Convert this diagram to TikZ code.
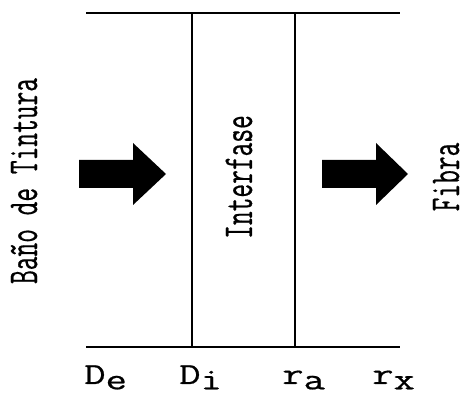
\documentclass[tikz,border=0pt]{standalone}
\usepackage{graphicx}
\usepackage{fontspec}
\newfontfamily\lblfont{Latin Modern Mono}[FakeBold=0.6]
\newcommand{\widetxt}[1]{\scalebox{1.35}[1]{#1}}
\newcommand{\talltxt}[1]{\scalebox{1}[1.6]{#1}}
\newcommand{\lowsub}[1]{\raisebox{-4pt}{#1}}

\begin{document}
\begin{tikzpicture}[x=0.75pt, y=-0.75pt,
    wall/.style={line width=1.5pt},
    flux/.style={fill=black},
    sidelabel/.style={font=\lblfont\fontsize{20}{24}\selectfont, rotate=90, anchor=base, inner sep=0pt},
    axislabel/.style={font=\lblfont\fontsize{23}{27}\selectfont, anchor=base west, inner sep=0pt}]
    \useasboundingbox (0,0) rectangle (469,395);

    % Corners of the layers
    \coordinate (TL) at (86,13);
    \coordinate (TR) at (400,13);
    \coordinate (BL) at (86,347);
    \coordinate (BR) at (400,347);
    \coordinate (IT) at (191.5,13);
    \coordinate (IB) at (191.5,347);
    \coordinate (AT) at (295,13);
    \coordinate (AB) at (295,347);

    % Horizontal bounds
    \draw[wall] (TL) -- (TR);
    \draw[wall] (BL) -- (BR);

    % Interface walls
    \draw[wall] (IT) -- (IB);
    \draw[wall] (AT) -- (AB);

    % Flux arrows
    \fill[flux] (79,160) -- (133,160) -- (133,143) -- (166,174) -- (133,205) -- (133,188) -- (79,188) -- cycle;
    \fill[flux] (322,160) -- (376,160) -- (376,143) -- (408,174) -- (376,205) -- (376,188) -- (322,188) -- cycle;

    % Region labels
    \node[sidelabel] (bath) at (37,181) {\talltxt{Baño de Tintura}};
    \node[sidelabel] (inter) at (252,177) {\talltxt{Interfase}};
    \node[sidelabel] (fiber) at (459,177) {\talltxt{Fibra}};

    % Positions along the bottom
    \node[axislabel] (De) at (84,384) {\widetxt{D\lowsub{e}}};
    \node[axislabel] (Di) at (179,384) {\widetxt{D\lowsub{i}}};
    \node[axislabel] (ra) at (282,384) {\widetxt{r\lowsub{a}}};
    \node[axislabel] (rx) at (372,384) {\widetxt{r\lowsub{x}}};
\end{tikzpicture}
\end{document}
